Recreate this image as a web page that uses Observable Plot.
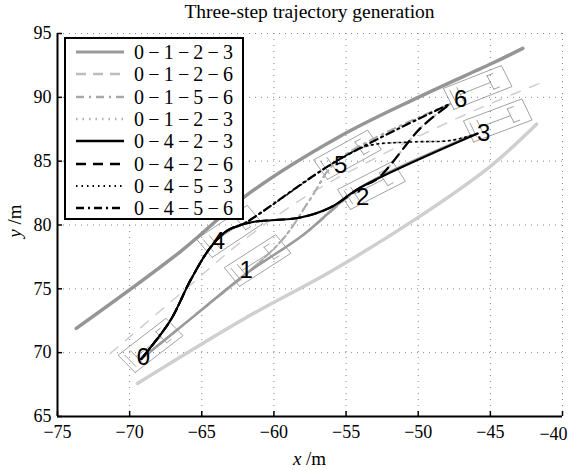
<!DOCTYPE html>
<html><head><meta charset="utf-8">
<script src="https://cdn.jsdelivr.net/npm/d3@7"></script>
<script src="https://cdn.jsdelivr.net/npm/@observablehq/plot@0.6"></script>
<style>
body{margin:0;background:#fff;}
#wrap{position:relative;width:569px;height:470px;font-family:"Liberation Serif","Times New Roman",serif;color:#000;}
#wrap svg{font-family:"Liberation Serif","Times New Roman",serif;}
#title{position:absolute;left:57px;width:505px;top:0px;text-align:center;font-size:19.5px;line-height:24px;}
#xlab{position:absolute;left:57px;width:505px;top:447px;text-align:center;font-size:19px;line-height:24px;}
#ylab{position:absolute;left:15px;top:221px;font-size:19px;transform:translate(-50%,-50%) rotate(-90deg);white-space:nowrap;}
#legend{position:absolute;left:64px;top:37px;width:176px;height:179px;border:2px solid #000;background:#fff;}
.row{position:absolute;left:0;height:22px;width:176px;}
.row svg{position:absolute;left:8px;top:0;}
.row span{position:absolute;left:68px;top:0;font-size:20px;line-height:22px;letter-spacing:4.2px;font-family:"Liberation Serif","Times New Roman",serif;}
</style></head><body>
<div id="wrap"></div>
<script>
// ---- axis ticks ----
const xTicks = [-75, -70, -65, -60, -55, -50, -45, -40];
const yTicks = [65, 70, 75, 80, 85, 90, 95];

// ---- road ----
const upperEdge = [[-73.7, 71.9], [-66.5, 77.9], [-61.63, 82.55], [-55.5, 86.9], [-50, 90.0], [-44.76, 92.73], [-42.75, 93.83]];
const lowerEdge = [[-69.46, 67.59], [-62, 72.7], [-56, 76.4], [-50, 80.6], [-45, 84.6], [-41.8, 87.9]];
const laneDivider = [[-71.34, 69.94], [-66.5, 74.6], [-62.32, 78.63], [-57.46, 82.47], [-53.2, 85.1], [-49.14, 87.4], [-45, 89.5], [-41.57, 91.1]];

// ---- trajectory segments ----
const seg04 = [[-69.2, 69.5], [-67.18, 72.52], [-65.79, 75.66], [-64.4, 78.24], [-63.22, 79.57]];
const seg42 = [[-61.63, 80.2], [-58.16, 80.59], [-56.08, 81.37], [-54.0, 82.94]];
const seg23 = [[-45.88, 87.17]];
const seg26 = [[-52.8, 83.65], [-49.8, 87.64], [-47.76, 89.5]];
const seg45 = [[-62.1, 80.1], [-55.6, 85.05]];
const seg56 = [[-47.76, 89.5]];
const seg53 = [[-53.5, 86.2], [-50.5, 86.5], [-47.76, 86.62], [-45.88, 87.17]];
const seg01 = [[-69.2, 69.5], [-65.5, 72.9], [-61.9, 76.2]];
const seg12 = [[-58.0, 79.2], [-54.0, 82.94]];
const seg15 = [[-59.3, 79.0], [-57.5, 82.0], [-55.6, 85.05]];

const trajNames = ["0−1−2−3", "0−1−2−6", "0−1−5−6", "0−1−2−3", "0−4−2−3", "0−4−2−6", "0−4−5−3", "0−4−5−6"];
const trajPaths = [
  [seg01, seg12, seg23],
  [seg01, seg12, seg26],
  [seg01, seg15, seg56],
  [seg01, seg15, seg53],
  [seg04, seg42, seg23],
  [seg04, seg42, seg26],
  [seg04, seg45, seg53],
  [seg04, seg45, seg56]
];
const trajColor = ["#9a9a9a", "#bdbdbd", "#a8a8a8", "#b0b0b0", "#000", "#000", "#000", "#000"];
const trajWidth = [2.5, 2, 2, 2, 2, 2.2, 1.6, 2.2];
const trajDash = [null, "10,7", "8,5,2,5", "1.5,5", null, "10,7", "1.5,4", "8,4,2,4"];
const drawOrder = [1, 2, 3, 0, 6, 7, 5, 4];

// ---- vehicles ----
const carNames = ["0", "1", "2", "3", "4", "5", "6"];
const carX = [-68.55, -61.13, -53.24, -44.49, -63.07, -54.9, -45.88];
const carY = [70.57, 77.22, 83.1, 88.19, 79.5, 85.5, 90.77];
const carHeading = [41, 36, 30, 23, 37, 32, 24];
const labelX = [-69.05, -61.92, -53.85, -45.46, -63.85, -55.38, -47.06];
const labelY = [69.63, 76.44, 82.15, 87.16, 78.71, 84.66, 89.82];
const carLen = 4.4, carWid = 1.8;

const carRows = [];
carNames.forEach((n, i) => {
  const t = carHeading[i] * Math.PI / 180, c = Math.cos(t), s = Math.sin(t);
  const P = (u, v) => ({x: carX[i] + u * carLen * c - v * carWid * s, y: carY[i] + u * carLen * s + v * carWid * c});
  const parts = [
    [[-0.5, -0.5], [0.5, -0.5], [0.5, 0.5], [-0.5, 0.5], [-0.5, -0.5]],
    [[-0.3, -0.32], [-0.3, 0.32]],
    [[0.22, -0.32], [0.22, 0.32]],
    [[-0.3, 0], [0.22, 0]],
    [[-0.42, -0.32], [-0.42, 0.32]],
    [[0.22, -0.32], [0.32, -0.32]],
    [[0.22, 0.32], [0.32, 0.32]]
  ];
  parts.forEach((pp, j) => pp.forEach(([u, v]) => carRows.push({...P(u, v), k: n + "_" + j})));
});

const trajMarks = drawOrder.map(i => {
  const pts = trajPaths[i].flat().map(([x, y]) => ({x, y}));
  return Plot.line(pts, {x: "x", y: "y", stroke: trajColor[i], strokeWidth: trajWidth[i], strokeDasharray: trajDash[i], curve: "catmull-rom"});
});

const toObj = a => a.map(([x, y]) => ({x, y}));
const serif = "Liberation Serif";

const plot = Plot.plot({
  width: 569, height: 470,
  marginLeft: 57, marginRight: 7, marginTop: 33, marginBottom: 54,
  style: {fontFamily: "'Liberation Serif', serif", fontSize: "18px", background: "transparent"},
  x: {domain: [-75, -40]},
  y: {domain: [65, 95]},
  marks: [
    Plot.gridX(xTicks.slice(1), {stroke: "#888", strokeOpacity: 1, strokeDasharray: "1,5"}),
    Plot.gridY(yTicks.slice(1), {stroke: "#888", strokeOpacity: 1, strokeDasharray: "1,5"}),
    Plot.line(toObj(lowerEdge), {x: "x", y: "y", stroke: "#cfcfcf", strokeWidth: 3.5, curve: "catmull-rom"}),
    Plot.line(toObj(upperEdge), {x: "x", y: "y", stroke: "#959595", strokeWidth: 3.5, curve: "catmull-rom"}),
    Plot.line(toObj(laneDivider), {x: "x", y: "y", stroke: "#cfcfcf", strokeWidth: 1.5, strokeDasharray: "10,10", curve: "catmull-rom"}),
    Plot.line(carRows, {x: "x", y: "y", z: "k", stroke: "#8a8a8a", strokeWidth: 0.8}),
    ...trajMarks,
    Plot.text(carNames, {x: (d, i) => labelX[i], y: (d, i) => labelY[i], text: d => d, fontSize: 24, fontFamily: "Liberation Sans", fill: "#000"}),
    Plot.ruleX(xTicks, {x: d => d, y1: 65, y2: 65.4, stroke: "#000", strokeWidth: 1.5}),
    Plot.ruleY(yTicks, {y: d => d, x1: -75, x2: -74.65, stroke: "#000", strokeWidth: 1.5}),
    Plot.axisX(xTicks.slice(0, -1), {tickSize: 0, tickPadding: 9, label: null, fontFamily: serif, fontSize: 18, tickFormat: d => d3.format("d")(d)}),
    Plot.text([xTicks[xTicks.length - 1]], {x: d => d, y: 65, dy: 18, dx: -9, text: d => d3.format("d")(d), fontFamily: serif, fontSize: 18, fill: "#000"}),
    Plot.axisY(yTicks, {tickSize: 0, tickPadding: 6, label: null, fontFamily: serif, fontSize: 18, tickFormat: d => d3.format("d")(d)}),
    Plot.ruleX([-75], {stroke: "#000", strokeWidth: 2}),
    Plot.ruleY([65], {stroke: "#000", strokeWidth: 2})
  ]
});

const wrap = document.getElementById("wrap");
wrap.appendChild(plot);
plot.style.position = "absolute"; plot.style.left = "0"; plot.style.top = "0";

const title = document.createElement("div"); title.id = "title"; title.textContent = "Three-step trajectory generation"; wrap.appendChild(title);
const xl = document.createElement("div"); xl.id = "xlab"; xl.innerHTML = "<i>x</i> /m"; wrap.appendChild(xl);
const yl = document.createElement("div"); yl.id = "ylab"; yl.innerHTML = "<i>y</i> /m"; wrap.appendChild(yl);

const leg = document.createElement("div"); leg.id = "legend"; wrap.appendChild(leg);
trajNames.forEach((name, i) => {
  const r = document.createElement("div"); r.className = "row"; r.style.top = (2 + i * 22.3) + "px";
  const dash = trajDash[i] ? `stroke-dasharray="${trajDash[i]}"` : "";
  r.innerHTML = `<svg width="52" height="22"><line x1="2" y1="11" x2="50" y2="11" stroke="${trajColor[i]}" stroke-width="${trajWidth[i] + 0.5}" ${dash}/></svg><span>${name}</span>`;
  leg.appendChild(r);
});
</script>
</body></html>
